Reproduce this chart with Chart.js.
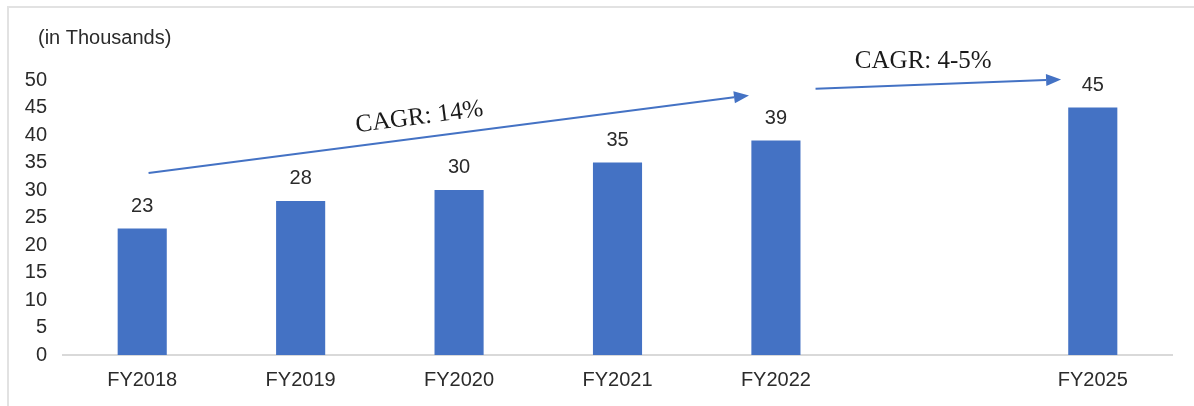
<!DOCTYPE html>
<html>
<head>
<meta charset="utf-8">
<script src="https://cdn.jsdelivr.net/npm/chart.js@4.4.0/dist/chart.umd.min.js"></script>
<style>
    html, body { margin: 0; padding: 0; background: #fff; }
    .wrap { position: relative; width: 1194px; height: 406px; }
    .frame {
        position: absolute; left: 7px; top: 6px; width: 1200px; height: 420px;
        border-top: 2px solid #e2e2e2; border-left: 2px solid #e2e2e2;
    }
    canvas { position: absolute; left: 0; top: 0; }
</style>
</head>
<body>
<div class="wrap">
    <div class="frame"></div>
    <canvas id="chart" width="1194" height="406"></canvas>
</div>
<script>
const years = ['FY2018', 'FY2019', 'FY2020', 'FY2021', 'FY2022', '', 'FY2025'];
const values = [23, 28, 30, 35, 39, null, 45];
const unitLabel = '(in Thousands)';

// growth arrows: [category index, value] -> [category index, value]
const cagrLabels = ['CAGR: 14%', 'CAGR: 4-5%'];
const arrowFrom = [[0.04, 33.1], [4.25, 48.4]];
const arrowTo = [[3.83, 47.2], [5.8, 50.1]];

const barColor = '#4472C4';
const textColor = '#2b2b2b';

const overlay = {
    id: 'overlay',
    afterDatasetsDraw(chart) {
        const { ctx, scales: { x, y } } = chart;
        ctx.save();

        // value labels
        ctx.font = '20px "Liberation Sans", Arial, sans-serif';
        ctx.fillStyle = textColor;
        ctx.textAlign = 'center';
        ctx.textBaseline = 'alphabetic';
        chart.getDatasetMeta(0).data.forEach((bar, i) => {
            if (values[i] == null) return;
            ctx.fillText(values[i], bar.x, bar.y - 17);
        });

        // unit label
        ctx.textAlign = 'left';
        ctx.textBaseline = 'middle';
        ctx.fillText(unitLabel, 38, 38);

        // arrows
        arrowFrom.forEach((from, i) => {
            const x1 = x.getPixelForValue(from[0]);
            const y1 = y.getPixelForValue(from[1]);
            const x2 = x.getPixelForValue(arrowTo[i][0]);
            const y2 = y.getPixelForValue(arrowTo[i][1]);
            const ang = Math.atan2(y2 - y1, x2 - x1);
            const head = 15;

            ctx.strokeStyle = barColor;
            ctx.fillStyle = barColor;
            ctx.lineWidth = 2;
            ctx.beginPath();
            ctx.moveTo(x1, y1);
            ctx.lineTo(x2 - head * Math.cos(ang), y2 - head * Math.sin(ang));
            ctx.stroke();

            ctx.beginPath();
            ctx.moveTo(x2, y2);
            ctx.lineTo(x2 - head * Math.cos(ang) + 6 * Math.sin(ang), y2 - head * Math.sin(ang) - 6 * Math.cos(ang));
            ctx.lineTo(x2 - head * Math.cos(ang) - 6 * Math.sin(ang), y2 - head * Math.sin(ang) + 6 * Math.cos(ang));
            ctx.closePath();
            ctx.fill();
        });

        // CAGR texts
        ctx.font = '25px "Liberation Serif", "Times New Roman", serif';
        ctx.fillStyle = '#1a1a1a';
        ctx.textAlign = 'center';
        ctx.textBaseline = 'middle';

        const a0x1 = x.getPixelForValue(arrowFrom[0][0]), a0y1 = y.getPixelForValue(arrowFrom[0][1]);
        const a0x2 = x.getPixelForValue(arrowTo[0][0]), a0y2 = y.getPixelForValue(arrowTo[0][1]);
        const tilt = Math.atan2(a0y2 - a0y1, a0x2 - a0x1);
        ctx.save();
        ctx.translate(x.getPixelForValue(1.75), y.getPixelForValue(43.2));
        ctx.rotate(tilt);
        ctx.fillText(cagrLabels[0], 0, 0);
        ctx.restore();

        ctx.fillText(cagrLabels[1], x.getPixelForValue(4.93), y.getPixelForValue(53.4));

        ctx.restore();
    }
};

const data = {
    labels: years,
    datasets: [{
        data: values,
        backgroundColor: barColor,
        borderWidth: 0,
        barPercentage: 0.31,
        categoryPercentage: 1
    }]
};

const config = {
    type: 'bar',
    data,
    options: {
        responsive: false,
        animation: false,
        layout: {
            padding: { top: 80, right: 22, left: 0, bottom: 0 }
        },
        scales: {
            x: {
                grid: { display: false, drawTicks: false },
                border: { display: true, color: '#d9d9d9', width: 2 },
                ticks: {
                    color: textColor,
                    padding: 13,
                    maxRotation: 0,
                    autoSkip: false,
                    font: { family: '"Liberation Sans", Arial, sans-serif', size: 20 }
                },
                afterFit(scale) { scale.height = 51; }
            },
            y: {
                min: 0,
                max: 50,
                grid: { display: false, drawTicks: false },
                border: { display: false },
                ticks: {
                    stepSize: 5,
                    color: textColor,
                    padding: 16,
                    font: { family: '"Liberation Sans", Arial, sans-serif', size: 20 }
                },
                afterFit(scale) { scale.width = 63; }
            }
        },
        plugins: {
            legend: { display: false },
            tooltip: { enabled: false }
        }
    },
    plugins: [overlay]
};

const myChart = new Chart(document.getElementById('chart'), config);
</script>
</body>
</html>
